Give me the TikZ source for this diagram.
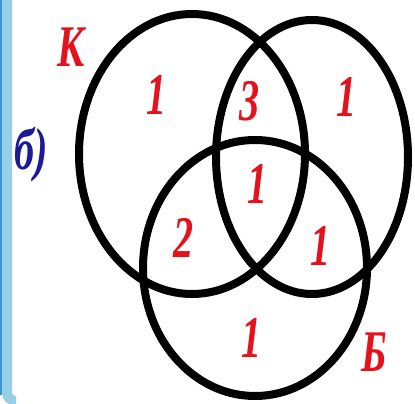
\documentclass[tikz,border=0pt]{standalone}
\usepackage{fontspec}
\setmainfont{Liberation Serif}
\usepackage{tkz-euclide}
\definecolor{knred}{RGB}{228,18,28}
\definecolor{knblue}{RGB}{28,26,150}
\definecolor{frameblue}{RGB}{150,208,232}
\definecolor{framedark}{RGB}{60,150,210}
\newcommand{\narrow}[1]{\scalebox{0.68}[1]{#1}}
\tikzset{
  ring/.style={line width=0.2cm,black},
  lbl/.style={text=knred,inner sep=0pt,
    font=\fontsize{42}{42}\selectfont\bfseries\itshape},
  tag/.style={lbl,text=knblue}
}

\begin{document}
\begin{tikzpicture}[x=0.025cm,y=0.025cm]
  \useasboundingbox (0,0) rectangle (415,403);
  % frame on the left
  \draw[frameblue,line width=0.25cm,rounded corners=6] (7,410) -- (7,2) -- (16,2);
  \draw[framedark,line width=0.05cm] (1,410) -- (1,8);
  % centres of the three sets
  \tkzDefPoints{192/249/K,312/246/R,255/135/B}
  \draw[ring] (K) ellipse [x radius=113,y radius=140];
  \draw[ring] (R) ellipse [x radius=96,y radius=137];
  \draw[ring] (B) ellipse [x radius=112,y radius=128];
  % names
  \node[lbl] (nK) at (71,356) {\narrow{К}};
  \node[lbl] (nB) at (374,51) {\narrow{Б}};
  \node[tag] (nb) at (31,248) {\narrow{б)}};
  % counts
  \node[lbl] (kOnly) at (157,308) {\narrow{1}};
  \node[lbl] (kr) at (250,302) {\narrow{3}};
  \node[lbl] (rOnly) at (347,306) {\narrow{1}};
  \node[lbl] (krb) at (258,219) {\narrow{1}};
  \node[lbl] (kb) at (184,165) {\narrow{2}};
  \node[lbl] (rb) at (321,157) {\narrow{1}};
  \node[lbl] (bOnly) at (252,65) {\narrow{1}};
\end{tikzpicture}
\end{document}
